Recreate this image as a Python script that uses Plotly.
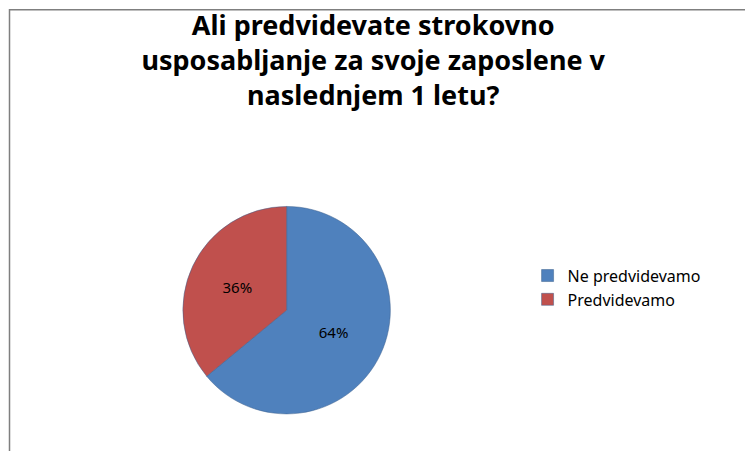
import plotly.graph_objects as go

labels = ["Ne predvidevamo", "Predvidevamo"]
values = [64, 36]
colors = ["#4F81BD", "#C0504D"]

fig = go.Figure(go.Pie(
    labels=labels, values=values, sort=False, direction="clockwise", rotation=0,
    marker=dict(colors=colors, line=dict(color="#3A5F8C", width=0.5)),
    texttemplate="%{percent:.0%}", textposition="inside",
    textfont=dict(color="black", size=15, family="Noto Sans"),
    domain=dict(x=[0.13, 0.61], y=[0.1, 0.56]),
))

fig.update_layout(
    width=753, height=451,
    margin=dict(l=0, r=0, t=0, b=0),
    paper_bgcolor="white",
    font=dict(family="Noto Sans", color="black"),
    title=dict(text="<b>Ali predvidevate strokovno<br>usposabljanje za svoje zaposlene v<br>naslednjem 1 letu?</b>",
               x=0.485, xanchor="center", y=0.94, yanchor="top",
               font=dict(size=27)),
    legend=dict(x=0.69, y=0.38, yanchor="middle", font=dict(size=16),
                itemwidth=30),
    shapes=[dict(type="rect", xref="paper", yref="paper", x0=0.002, y0=0.012,
                 x1=0.985, y1=0.996, line=dict(color="#7F7F7F", width=1.5))],
)

fig.write_html("out.html")
